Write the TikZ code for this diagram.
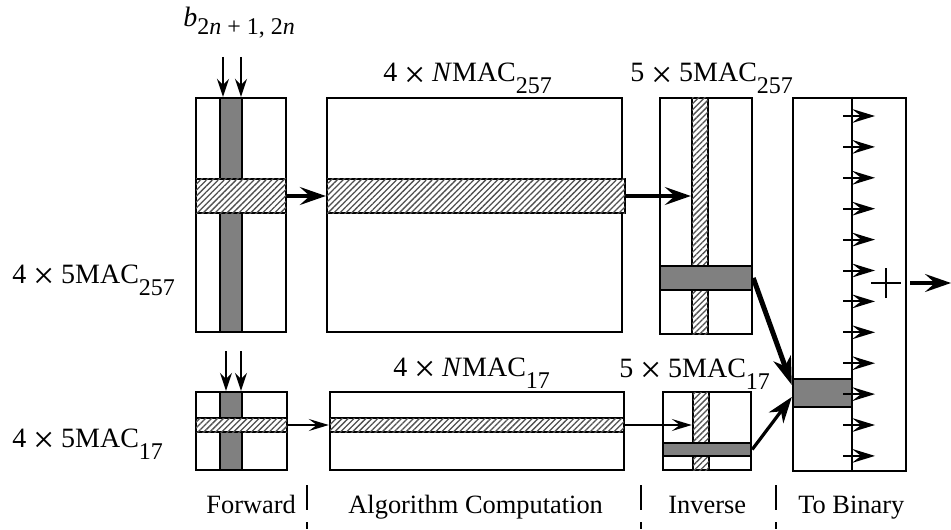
\documentclass[tikz,border=0pt]{standalone}
\usepackage{fontspec}
\setmainfont{Liberation Serif}
\usepackage{graphicx}
\usepackage{xcolor}
\usepackage{tikz}
\usetikzlibrary{positioning, arrows.meta, patterns.meta}
\definecolor{bandgray}{RGB}{128,128,128}
\definecolor{hatchgray}{RGB}{80,80,80}
\newcommand{\lowsub}[2][6pt]{\raisebox{-#1}{\fontsize{12}{13}\selectfont #2}}
\newcommand{\timessign}{\hspace{0.24em}\raisebox{-0.2em}{\scalebox{1.35}{×}}\hspace{0.24em}}

\begin{document}
\begin{tikzpicture}[
    x=0.5pt, y=-0.5pt,
    every node/.style={font=\fontsize{14}{16}\selectfont},
    lbl/.style={anchor=base west, inner sep=0pt},
    stage/.style={anchor=base west, inner sep=0pt, font=\fontsize{13.2}{15}\selectfont},
    block/.style={
        rectangle,
        draw=black,
        line width=1.2pt,
        fill=white,
        inner sep=0pt
    },
    solidband/.style={
        rectangle,
        draw=black,
        line width=1.2pt,
        fill=bandgray,
        inner sep=0pt
    },
    hatchband/.style={
        rectangle,
        draw=black,
        line width=1.2pt,
        fill=white,
        inner sep=0pt,
        postaction={pattern={Lines[angle=45, distance=2.1pt, line width=0.65pt]}, pattern color=hatchgray}
    },
    inarrow/.style={-{Stealth[length=9pt, width=6pt, inset=3pt]}, line width=0.8pt},
    thinarrow/.style={-{Stealth[length=10pt, width=6pt, inset=4pt]}, line width=1pt},
    bigarrow/.style={-{Stealth[length=13pt, width=9pt, inset=5pt]}, line width=1.6pt},
    heavyarrow/.style={-{Stealth[length=14pt, width=9pt, inset=4pt]}, line width=2.5pt},
    midarrow/.style={-{Stealth[length=13pt, width=9pt, inset=4pt]}, line width=1.6pt},
    tickarrow/.style={-{Stealth[length=11.5pt, width=7pt, inset=4.5pt]}, line width=1pt},
    stageline/.style={line width=1pt, dash pattern=on 12.5pt off 6pt}
]
\useasboundingbox (0,0) rectangle (951,529);

% upper row (257)
\node[block, minimum width=45pt, minimum height=117pt] (fwdA) at (241,215) {};
\node[solidband, minimum width=11pt, minimum height=117pt] (colFA) at (231,215) {};
\node[hatchband, minimum width=45pt, minimum height=17pt] (bandFA) at (241,196) {};

\node[block, minimum width=147.5pt, minimum height=117pt] (algA) at (474.5,215) {};
\node[hatchband, minimum width=149pt, minimum height=17pt] (bandAA) at (476,196) {};

\node[block, minimum width=46pt, minimum height=118pt] (invA) at (706,216) {};
\node[hatchband, minimum width=8pt, minimum height=118pt] (colIA) at (700,216) {};
\node[solidband, minimum width=46pt, minimum height=12pt] (bandIA) at (706,278) {};

% lower row (17)
\node[block, minimum width=45.5pt, minimum height=39pt] (fwdB) at (241.5,431) {};
\node[solidband, minimum width=11pt, minimum height=39pt] (colFB) at (231,431) {};
\node[hatchband, minimum width=45.5pt, minimum height=7pt] (bandFB) at (241.5,425) {};

\node[block, minimum width=147pt, minimum height=39pt] (algB) at (477,431) {};
\node[hatchband, minimum width=147pt, minimum height=7pt] (bandAB) at (477,425) {};

\node[block, minimum width=44pt, minimum height=39pt] (invB) at (707,431) {};
\node[hatchband, minimum width=8pt, minimum height=39pt] (colIB) at (701,431) {};
\node[solidband, minimum width=44pt, minimum height=6.5pt] (bandIB) at (707,449.5) {};

% to binary
\node[block, minimum width=56.5pt, minimum height=186.5pt] (bin) at (849.5,284.5) {};
\coordinate (split) at (852,0);
\draw[line width=1pt] (bin.north -| split) -- (bin.south -| split);
\node[solidband, minimum width=29.5pt, minimum height=14pt] (bandB) at (822.5,393) {};
\foreach \i in {0,...,11}
    \draw[tickarrow] (843,{116+30.9*\i}) -- ++(32,0);
\coordinate (sum) at (886,283);
\draw[line width=0.9pt] ([xshift=-7.5pt]sum) -- ([xshift=7.5pt]sum);
\draw[line width=0.9pt] ([yshift=-7.5pt]sum) -- ([yshift=7.5pt]sum);
\coordinate (out) at (951,283);
\draw[bigarrow] ([xshift=12pt]sum) -- (out);

% inputs
\coordinate (inA1) at (223,57);
\coordinate (inA2) at (241,57);
\coordinate (inB1) at (226,351);
\coordinate (inB2) at (241,351);
\draw[inarrow] (inA1) -- (inA1 |- fwdA.north);
\draw[inarrow] (inA2) -- (inA2 |- fwdA.north);
\draw[inarrow] (inB1) -- (inB1 |- fwdB.north);
\draw[inarrow] (inB2) -- (inB2 |- fwdB.north);

% data flow
\draw[bigarrow] (bandFA.east) -- (bandFA.east -| algA.west);
\draw[bigarrow] (bandAA.east) -- (bandAA.east -| colIA.west);
\draw[thinarrow] (bandFB.east) -- (bandFB.east -| algB.west);
\draw[thinarrow] (bandAB.east) -- (bandAB.east -| colIB.west);
\draw[heavyarrow] (bandIA.east) -- ([yshift=4pt]bandB.west);
\draw[midarrow] (bandIB.east) -- ([yshift=-2pt]bandB.west);

% labels
\node[lbl] (blbl) at (183,27) {\textit{b}\lowsub[4pt]{2\textit{n} + 1, 2\textit{n}}};
\node[lbl] (algAlbl) at (383,82) {4\timessign\textit{N}MAC\lowsub{257}};
\node[lbl] (invAlbl) at (630,82) {5\timessign 5MAC\lowsub{257}};
\node[lbl] (fwdAlbl) at (12,283) {4\timessign 5MAC\lowsub{257}};
\node[lbl] (algBlbl) at (393,376) {4\timessign\textit{N}MAC\lowsub{17}};
\node[lbl] (invBlbl) at (619,377) {5\timessign 5MAC\lowsub{17}};
\node[lbl] (fwdBlbl) at (12,447) {4\timessign 5MAC\lowsub{17}};

% stages
\node[stage] (fwdstage) at (206,513) {Forward};
\node[stage] (algstage) at (348,513) {Algorithm Computation};
\node[stage] (invstage) at (668,513) {Inverse};
\node[stage] (binstage) at (798,513) {To Binary};
\coordinate (cutA) at (307,485);
\coordinate (cutB) at (641,485);
\coordinate (cutC) at (776,485);
\foreach \c in {cutA, cutB, cutC}
    \draw[stageline] (\c) -- ++(0,44);

\end{tikzpicture}
\end{document}
